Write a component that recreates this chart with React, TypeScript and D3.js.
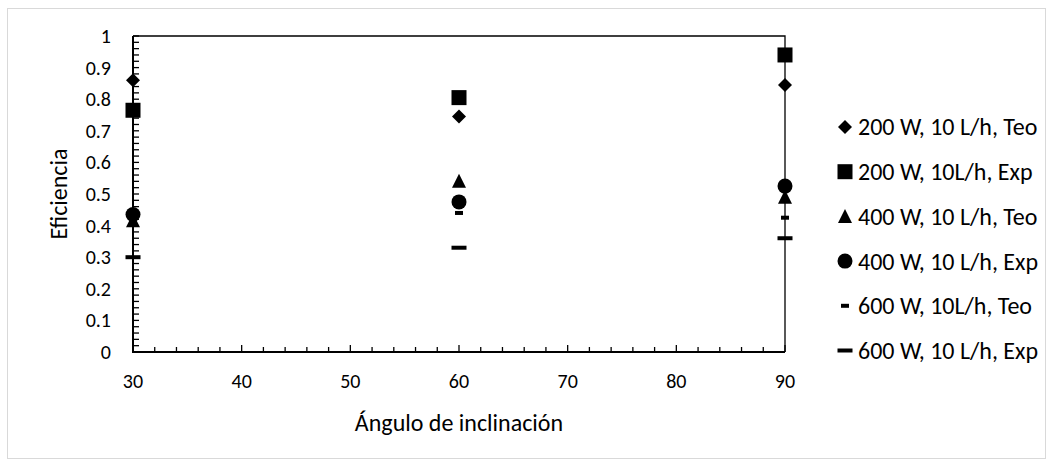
import React, { useEffect, useRef } from "react";
import * as d3 from "d3";

// Inclination angles (degrees)
const angles = [30, 60, 90];

// Efficiency per series at each angle
const s200Teo = [0.86, 0.745, 0.845];
const s200Exp = [0.765, 0.805, 0.94];
const s400Teo = [0.415, 0.54, 0.49];
const s400Exp = [0.435, 0.475, 0.525];
const s600Teo = [0.43, 0.44, 0.425];
const s600Exp = [0.3, 0.33, 0.36];

const seriesNames = [
  "200 W, 10 L/h, Teo",
  "200 W, 10L/h, Exp",
  "400 W, 10 L/h, Teo",
  "400 W, 10 L/h, Exp",
  "600 W, 10L/h, Teo",
  "600 W, 10 L/h, Exp",
];
const seriesShapes = ["diamond", "square", "triangle", "circle", "dashShort", "dashLong"];
const seriesValues = [s200Teo, s200Exp, s400Teo, s400Exp, s600Teo, s600Exp];

const yTicks = [0, 0.1, 0.2, 0.3, 0.4, 0.5, 0.6, 0.7, 0.8, 0.9, 1];
const xTicks = [30, 40, 50, 60, 70, 80, 90];

const W = 1053;
const H = 466;
const FONT = "Carlito, Calibri, Lato, 'Liberation Sans', sans-serif";

function drawMarker(g: any, shape: string, cx: number, cy: number) {
  const s = g.append("g").attr("transform", `translate(${cx},${cy})`);
  if (shape === "diamond") {
    s.append("path").attr("d", "M0,-7L7,0L0,7L-7,0Z").attr("fill", "#000");
  } else if (shape === "square") {
    s.append("rect").attr("x", -7.5).attr("y", -7.5).attr("width", 15).attr("height", 15).attr("fill", "#000");
  } else if (shape === "triangle") {
    s.append("path").attr("d", "M0,-7.5L7,6.5L-7,6.5Z").attr("fill", "#000");
  } else if (shape === "circle") {
    s.append("circle").attr("r", 7.5).attr("fill", "#000");
  } else if (shape === "dashShort") {
    s.append("rect").attr("x", -4).attr("y", -2).attr("width", 8).attr("height", 4).attr("fill", "#000");
  } else if (shape === "dashLong") {
    s.append("rect").attr("x", -7.5).attr("y", -2).attr("width", 15).attr("height", 4).attr("fill", "#000");
  }
}

export default function App() {
  const ref = useRef<SVGSVGElement>(null);

  useEffect(() => {
    const svg = d3.select(ref.current);
    svg.selectAll("*").remove();

    const left = 133, right = 785, top = 36, bottom = 352;
    const x = d3.scaleLinear().domain([30, 90]).range([left, right]);
    const y = d3.scaleLinear().domain([0, 1]).range([bottom, top]);

    // outer chart frame
    svg.append("rect")
      .attr("x", 7.5).attr("y", 8.5).attr("width", 1038).attr("height", 450)
      .attr("fill", "#fff").attr("stroke", "#d9d9d9").attr("stroke-width", 1);

    const g = svg.append("g");

    // plot border (top and right)
    g.append("path")
      .attr("d", `M${left},${top}H${right}V${bottom}`)
      .attr("fill", "none").attr("stroke", "#000").attr("stroke-width", 1.3);

    // y ticks every 0.02, drawn inside the plot
    const yMinor = d3.range(0, 1.0001, 0.02);
    g.selectAll(".ymin").data(yMinor).enter().append("line")
      .attr("x1", left).attr("x2", left + 6)
      .attr("y1", (d: number) => y(d)).attr("y2", (d: number) => y(d))
      .attr("stroke", "#000").attr("stroke-width", 1.3);

    // x ticks every 2 degrees, drawn inside the plot
    const xMinor = d3.range(30, 90.001, 2);
    g.selectAll(".xmin").data(xMinor).enter().append("line")
      .attr("x1", (d: number) => x(d)).attr("x2", (d: number) => x(d))
      .attr("y1", bottom).attr("y2", (d: number) => (xTicks.includes(Math.round(d)) ? bottom - 7 : bottom - 5))
      .attr("stroke", "#000").attr("stroke-width", 1.3);

    // axis lines
    g.append("line").attr("x1", left).attr("x2", left).attr("y1", top).attr("y2", bottom)
      .attr("stroke", "#000").attr("stroke-width", 2);
    g.append("line").attr("x1", left - 1).attr("x2", right).attr("y1", bottom).attr("y2", bottom)
      .attr("stroke", "#000").attr("stroke-width", 2);

    // y labels
    g.selectAll(".ylab").data(yTicks).enter().append("text")
      .attr("x", left - 22).attr("y", (d: number) => y(d))
      .attr("dy", "0.35em").attr("text-anchor", "end")
      .attr("font-family", FONT).attr("font-size", 20).attr("fill", "#000")
      .text((d: number) => d3.format("")(d));

    // x labels
    g.selectAll(".xlab").data(xTicks).enter().append("text")
      .attr("x", (d: number) => x(d)).attr("y", bottom + 29)
      .attr("dy", "0.35em").attr("text-anchor", "middle")
      .attr("font-family", FONT).attr("font-size", 20).attr("fill", "#000")
      .text((d: number) => String(d));

    // axis titles
    g.append("text")
      .attr("x", (left + right) / 2).attr("y", bottom + 71)
      .attr("dy", "0.35em").attr("text-anchor", "middle")
      .attr("font-family", FONT).attr("font-size", 24).attr("fill", "#000")
      .text("Ángulo de inclinación");
    g.append("text")
      .attr("transform", `translate(59,${(top + bottom) / 2}) rotate(-90)`)
      .attr("dy", "0.35em").attr("text-anchor", "middle")
      .attr("font-family", FONT).attr("font-size", 24).attr("fill", "#000")
      .text("Eficiencia");

    // data markers
    const mg = svg.append("g");
    seriesValues.forEach((vals, si) => {
      vals.forEach((v, i) => {
        drawMarker(mg, seriesShapes[si], x(angles[i]), y(v));
      });
    });

    // legend
    const lg = svg.append("g");
    const legY0 = 127;
    const legStep = 44.7;
    seriesNames.forEach((name, i) => {
      const cy = legY0 + i * legStep;
      drawMarker(lg, seriesShapes[i], 845, cy);
      lg.append("text")
        .attr("x", 858).attr("y", cy).attr("dy", "0.35em")
        .attr("font-family", FONT).attr("font-size", 24).attr("fill", "#000")
        .text(name);
    });
  }, []);

  return (
    <svg
      ref={ref}
      width={W}
      height={H}
      style={{ position: "absolute", left: 0, top: 0, background: "#fff" }}
    />
  );
}
